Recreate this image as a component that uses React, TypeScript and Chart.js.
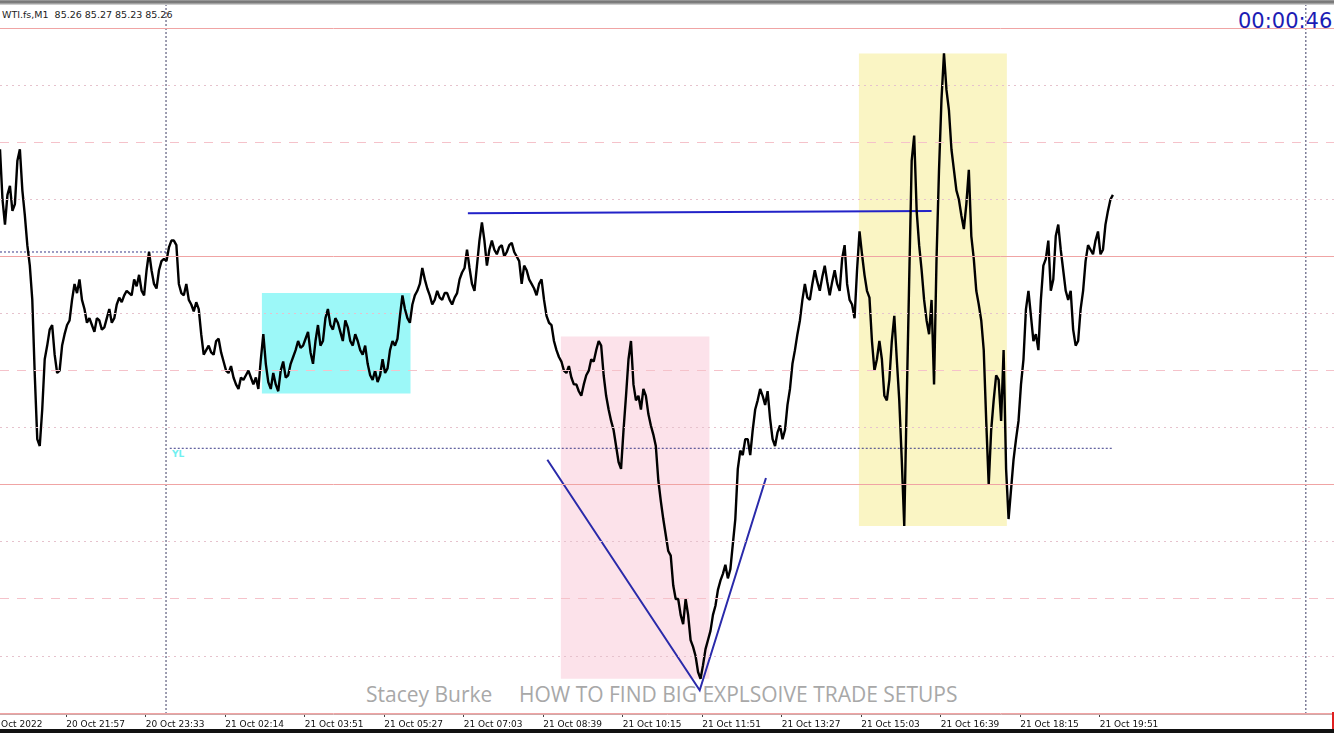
import React, { useEffect, useRef } from "react";
import { Chart, registerables } from "chart.js";

Chart.register(...registerables);

// ---------- data ----------
const SAMPLE_STEP_BARS = 6; // one sample every 6 M1 bars
const X_MIN = 0;
const X_MAX = 1611;
const Y_MIN = 82.996;
const Y_MAX = 86.102;

// price read at bars 0, 6, 12, ...
const priceSamples = [
  85.47, 85.14, 85.31, 85.23, 85.47, 85.18, 84.96, 84.48, 84.17, 84.55,
  84.68, 84.57, 84.50, 84.66, 84.72, 84.88, 84.90, 84.77, 84.73, 84.67,
  84.72, 84.69, 84.77, 84.73, 84.82, 84.83, 84.84, 84.90, 84.92, 84.83,
  85.02, 84.88, 84.94, 84.99, 85.04, 85.07, 84.88, 84.83, 84.81, 84.76,
  84.77, 84.57, 84.61, 84.57, 84.64, 84.54, 84.49, 84.47, 84.42, 84.46,
  84.50, 84.44, 84.42, 84.66, 84.45, 84.49, 84.41, 84.54, 84.48, 84.56,
  84.63, 84.61, 84.67, 84.53, 84.70, 84.63, 84.77, 84.68, 84.71, 84.63,
  84.69, 84.61, 84.63, 84.57, 84.53, 84.46, 84.45, 84.55, 84.51, 84.63,
  84.64, 84.83, 84.73, 84.79, 84.85, 84.95, 84.86, 84.79, 84.85, 84.81,
  84.84, 84.79, 84.84, 84.93, 85.03, 84.88, 84.96, 85.15, 84.96, 85.07,
  85.01, 85.05, 85.02, 85.06, 85.00, 84.88, 84.94, 84.88, 84.83, 84.90,
  84.74, 84.70, 84.59, 84.54, 84.49, 84.47, 84.44, 84.39, 84.48, 84.55,
  84.59, 84.61, 84.39, 84.28, 84.17, 84.07, 84.39, 84.63, 84.37, 84.33,
  84.39, 84.26, 84.17, 83.93, 83.78, 83.69, 83.50, 83.43, 83.50, 83.32,
  83.25, 83.15, 83.28, 83.36, 83.47, 83.58, 83.65, 83.63, 83.85, 84.15,
  84.20, 84.13, 84.33, 84.42, 84.35, 84.29, 84.17, 84.26, 84.24, 84.42,
  84.59, 84.72, 84.88, 84.81, 84.94, 84.85, 84.96, 84.83, 84.94, 84.85,
  85.05, 84.81, 84.73, 85.11, 84.92, 84.82, 84.50, 84.63, 84.39, 84.46,
  84.74, 84.37, 83.82, 84.90, 85.53, 85.05, 84.81, 84.66, 84.44, 85.38,
  85.89, 85.64, 85.38, 85.25, 85.12, 85.38, 84.99, 84.79, 84.59, 84.00,
  84.37, 84.46, 84.59, 83.85, 84.11, 84.28, 84.55, 84.85, 84.63, 84.59,
  84.96, 85.07, 84.90, 85.14, 84.94, 84.81, 84.68, 84.63, 84.85, 85.05,
  85.01, 85.11, 85.03, 85.20, 85.27,
];

// price read at bars 3, 9, 15, ... (between the samples above)
const midSamples = [
  85.25, 85.27, 85.20, 85.42, 85.29, 85.05, 84.81, 84.20, 84.33, 84.61,
  84.70, 84.49, 84.61, 84.70, 84.81, 84.84, 84.81, 84.71, 84.70, 84.73,
  84.68, 84.73, 84.71, 84.79, 84.80, 84.85, 84.83, 84.87, 84.85, 84.94,
  84.94, 84.86, 84.98, 84.98, 85.07, 85.05, 84.84, 84.88, 84.79, 84.80,
  84.66, 84.59, 84.58, 84.63, 84.58, 84.50, 84.52, 84.44, 84.47, 84.48,
  84.47, 84.47, 84.55, 84.53, 84.42, 84.44, 84.50, 84.47, 84.53, 84.59,
  84.60, 84.64, 84.58, 84.63, 84.61, 84.73, 84.70, 84.73, 84.67, 84.72,
  84.63, 84.66, 84.59, 84.61, 84.48, 84.50, 84.48, 84.49, 84.59, 84.61,
  84.74, 84.77, 84.71, 84.83, 84.88, 84.90, 84.83, 84.81, 84.82, 84.84,
  84.81, 84.82, 84.90, 84.95, 84.95, 84.85, 85.07, 85.07, 85.03, 85.03,
  85.04, 85.00, 85.05, 85.02, 84.98, 84.96, 84.90, 84.86, 84.88, 84.81,
  84.71, 84.63, 84.56, 84.50, 84.52, 84.44, 84.41, 84.44, 84.50, 84.54,
  84.63, 84.48, 84.33, 84.24, 84.10, 84.24, 84.55, 84.44, 84.39, 84.42,
  84.31, 84.22, 84.02, 83.85, 83.71, 83.56, 83.50, 83.39, 83.43, 83.29,
  83.18, 83.21, 83.32, 83.43, 83.54, 83.61, 83.59, 83.74, 84.07, 84.13,
  84.20, 84.24, 84.37, 84.39, 84.41, 84.20, 84.23, 84.20, 84.35, 84.53,
  84.66, 84.81, 84.82, 84.88, 84.89, 84.91, 84.89, 84.89, 84.88, 84.99,
  84.88, 84.79, 84.94, 85.01, 84.85, 84.63, 84.55, 84.55, 84.37, 84.63,
  84.55, 84.11, 84.37, 85.42, 85.20, 84.94, 84.72, 84.81, 84.99, 85.69,
  85.73, 85.47, 85.29, 85.18, 85.23, 85.09, 84.85, 84.72, 84.28, 84.24,
  84.48, 84.28, 84.07, 83.98, 84.20, 84.44, 84.77, 84.74, 84.66, 84.81,
  84.99, 84.85, 85.09, 85.03, 84.85, 84.85, 84.61, 84.77, 84.98, 85.03,
  85.07, 85.01, 85.14, 85.25,
];

const tickBars = [-16, 80, 176, 272, 368, 464, 560, 656, 752, 848, 944, 1040, 1136, 1232, 1328];
const tickLabels = [
  "20 Oct 2022", "20 Oct 21:57", "20 Oct 23:33", "21 Oct 02:14", "21 Oct 03:51",
  "21 Oct 05:27", "21 Oct 07:03", "21 Oct 08:39", "21 Oct 10:15", "21 Oct 11:51",
  "21 Oct 13:27", "21 Oct 15:03", "21 Oct 16:39", "21 Oct 18:15", "21 Oct 19:51",
];

const levelPrices = [83.0, 83.25, 83.5, 83.75, 84.0, 84.25, 84.5, 84.75, 85.0, 85.25, 85.5, 85.75, 86.0];

const cyanBoxBars = [316, 496];
const cyanBoxPrices = [84.40, 84.84];
const pinkBoxBars = [677, 857];
const pinkBoxPrices = [83.15, 84.65];
const yellowBoxBars = [1037, 1216];
const yellowBoxPrices = [83.82, 85.89];

const trendBars = [565, 1125];
const trendPrices = [85.19, 85.20];
const vBars = [661, 845, 925];
const vPrices = [84.11, 83.10, 84.03];

const prevHighBars = [0, 203];
const prevHighPrice = 85.02;
const ylBars = [205, 1343];
const ylPrice = 84.16;
const separatorBars = [200.5, 1577];

// ---------- styles ----------
const levelStyle = (v: number) => {
  const q = Math.round(v * 4) % 4;
  if (q === 0) return { color: "#f0a4a4", dash: [] as number[] };
  if (q === 2) return { color: "#f5c2ca", dash: [9, 8] };
  return { color: "#e6c2cd", dash: [2, 4] };
};

const pts = (bars: number[], prices: number[]) => bars.map((b, i) => ({ x: b, y: prices[i] }));
const flat = (bars: number[], price: number) => bars.map((b) => ({ x: b, y: price }));

const priceSeries = () => {
  const out: { x: number; y: number }[] = [];
  priceSamples.forEach((p, i) => {
    out.push({ x: i * SAMPLE_STEP_BARS, y: p });
    if (i < midSamples.length) out.push({ x: i * SAMPLE_STEP_BARS + SAMPLE_STEP_BARS / 2, y: midSamples[i] });
  });
  return out;
};

const boxDataset = (bars: number[], prices: number[], color: string) => ({
  data: flat(bars, prices[0]),
  fill: { value: prices[1] },
  backgroundColor: color,
  borderColor: "rgba(0,0,0,0)",
  borderWidth: 1,
  pointRadius: 0,
  order: 10,
});

const textStyle = (left: number, top: number, size: number, family: string, color: string, weight = "normal") => ({
  position: "absolute" as const,
  left,
  top,
  fontFamily: family,
  fontSize: size + "px",
  fontWeight: weight as any,
  lineHeight: size + "px",
  color,
  whiteSpace: "pre" as const,
});

export default function App() {
  const ref = useRef<HTMLCanvasElement>(null);

  useEffect(() => {
    const datasets: any[] = [
      {
        data: priceSeries(),
        borderColor: "#000",
        borderWidth: 2.4,
        borderJoinStyle: "bevel",
        pointRadius: 0,
        tension: 0,
        order: 1,
      },
      { data: pts(trendBars, trendPrices), borderColor: "#2222c8", borderWidth: 2, pointRadius: 0, order: 2 },
      { data: pts(vBars, vPrices), borderColor: "#2a2aaa", borderWidth: 2, pointRadius: 0, order: 2 },
      { data: flat(prevHighBars, prevHighPrice), borderColor: "#3a3a88", borderWidth: 1, borderDash: [2, 2], pointRadius: 0, order: 3 },
      { data: flat(ylBars, ylPrice), borderColor: "#3a3a88", borderWidth: 1, borderDash: [2, 2], pointRadius: 0, order: 3 },
      ...separatorBars.map((b) => ({
        data: [{ x: b, y: Y_MIN }, { x: b, y: Y_MAX }],
        borderColor: "#3c3c64",
        borderWidth: 1,
        borderDash: [2, 2],
        pointRadius: 0,
        order: 4,
      })),
      boxDataset(cyanBoxBars, cyanBoxPrices, "#9cf8f8"),
      boxDataset(pinkBoxBars, pinkBoxPrices, "#fce2ea"),
      boxDataset(yellowBoxBars, yellowBoxPrices, "#faf5c4"),
    ];

    const chart = new Chart(ref.current!, {
      type: "line",
      data: { datasets },
      options: {
        responsive: false,
        maintainAspectRatio: false,
        animation: false,
        devicePixelRatio: 1,
        events: [],
        layout: { padding: 0 },
        plugins: { legend: { display: false }, tooltip: { enabled: false }, title: { display: false } },
        scales: {
          x: {
            type: "linear",
            position: "bottom",
            min: X_MIN,
            max: X_MAX,
            afterBuildTicks: (s: any) => {
              s.ticks = tickBars.map((v) => ({ value: v }));
            },
            afterFit: (s: any) => {
              s.height = 15;
              s.paddingLeft = 0;
              s.paddingRight = 0;
            },
            ticks: {
              autoSkip: false,
              maxRotation: 0,
              minRotation: 0,
              align: "start",
              padding: 2,
              color: "#111",
              font: { family: "DejaVu Sans", size: 9 },
              callback: (_v: any, i: number) => tickLabels[i],
            },
            grid: { drawOnChartArea: false, drawTicks: true, tickLength: 3, tickColor: "#444", tickWidth: 1 },
            border: { display: true, color: "#cfa8a8", width: 1 },
          },
          y: {
            type: "linear",
            position: "right",
            min: Y_MIN,
            max: Y_MAX,
            afterBuildTicks: (s: any) => {
              s.ticks = levelPrices.map((v) => ({ value: v }));
            },
            afterFit: (s: any) => {
              s.width = 0;
              s.paddingTop = 0;
              s.paddingBottom = 0;
            },
            ticks: { display: false },
            grid: {
              z: 1,
              drawTicks: false,
              lineWidth: 1,
              color: (ctx: any) => (ctx.tick ? levelStyle(ctx.tick.value).color : "rgba(0,0,0,0)"),
            },
            border: {
              display: false,
              dash: (ctx: any) => (ctx.tick ? levelStyle(ctx.tick.value).dash : []),
            },
          },
        },
      } as any,
    });
    return () => chart.destroy();
  }, []);

  return (
    <div style={{ position: "fixed", left: 0, top: 0, width: 1334, height: 733, background: "#fff", overflow: "hidden" }}>
      <div
        style={{
          position: "absolute", left: 0, top: 0, width: 1334, height: 5,
          background: "linear-gradient(to bottom, #a4a4a4 0px, #6a6a6a 2px, #b4b4b4 4px, #e6e6e6 5px)",
        }}
      />
      <div style={textStyle(2, 10, 9.5, "'DejaVu Sans', sans-serif", "#222")}>WTI.fs,M1  85.26 85.27 85.23 85.26</div>
      <div style={textStyle(1238, 11, 21, "'DejaVu Sans', sans-serif", "#1c1cb4")}>00:00:46</div>
      <div style={textStyle(366, 684, 21, "'Open Sans', sans-serif", "#a8a8a8")}>Stacey Burke</div>
      <div style={textStyle(519, 684, 21, "'Open Sans', sans-serif", "#a8a8a8")}>HOW TO FIND BIG EXPLSOIVE TRADE SETUPS</div>
      <div style={textStyle(172, 450, 9, "'DejaVu Sans', sans-serif", "#70f0f0", "bold")}>YL</div>
      <canvas
        ref={ref}
        width={1334}
        height={724}
        style={{ position: "absolute", left: 0, top: 5, width: 1334, height: 724 }}
      />
      <div style={{ position: "absolute", left: 0, top: 729, width: 1334, height: 4, background: "#111" }} />
      <div style={{ position: "absolute", left: 1332, top: 712, width: 2, height: 17, background: "#e02020" }} />
    </div>
  );
}
